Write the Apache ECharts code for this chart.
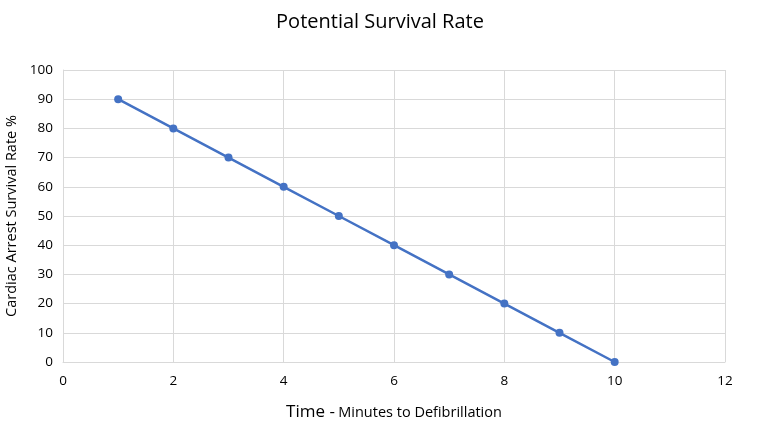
<!DOCTYPE html>
<html><head><meta charset="utf-8">
<script src="https://cdn.jsdelivr.net/npm/echarts@6/dist/echarts.min.js"></script>
<style>html,body{margin:0;padding:0;background:#fff}#c{width:760px;height:436px}</style>
</head><body><div id="c"></div>
<script>
const minutes = [1,2,3,4,5,6,7,8,9,10];
const survival = [90,80,70,60,50,40,30,20,10,0];
const chart = echarts.init(document.getElementById('c'));
const F = "'Open Sans', 'Noto Sans', sans-serif";
chart.setOption({
  animation:false,
  title:{text:'Potential Survival Rate',left:'center',top:7,textStyle:{fontFamily:F,fontSize:20,fontWeight:'normal',color:'#000'}},
  grid:{left:63,right:35,top:70,bottom:74,outerBoundsMode:'none',containLabel:false},
  xAxis:{type:'value',min:0,max:12,interval:2,
    name:'{a|Time -} {b|Minutes to Defibrillation}',nameLocation:'middle',nameGap:42,
    nameTextStyle:{rich:{a:{fontFamily:F,fontSize:17,color:'#000'},b:{fontFamily:F,fontSize:14.5,color:'#000'}}},
    axisLine:{lineStyle:{color:'#d9d9d9'}},axisTick:{show:false},
    axisLabel:{fontFamily:F,fontSize:13.5,color:'#000',margin:12},
    splitLine:{show:true,lineStyle:{color:'#d9d9d9'}}},
  yAxis:{type:'value',min:0,max:100,interval:10,
    name:'Cardiac Arrest Survival Rate %',nameLocation:'middle',nameGap:43,
    nameTextStyle:{fontFamily:F,fontSize:14.5,color:'#000'},
    axisLine:{show:true,lineStyle:{color:'#d9d9d9'}},axisTick:{show:false},
    axisLabel:{fontFamily:F,fontSize:13.5,color:'#000',margin:10},
    splitLine:{lineStyle:{color:'#d9d9d9'}}},
  series:[{type:'line',data:minutes.map((m,i)=>[m,survival[i]]),
    lineStyle:{color:'#4472C4',width:2.5},itemStyle:{color:'#4472C4'},
    symbol:'circle',symbolSize:8}]
});
</script></body></html>
